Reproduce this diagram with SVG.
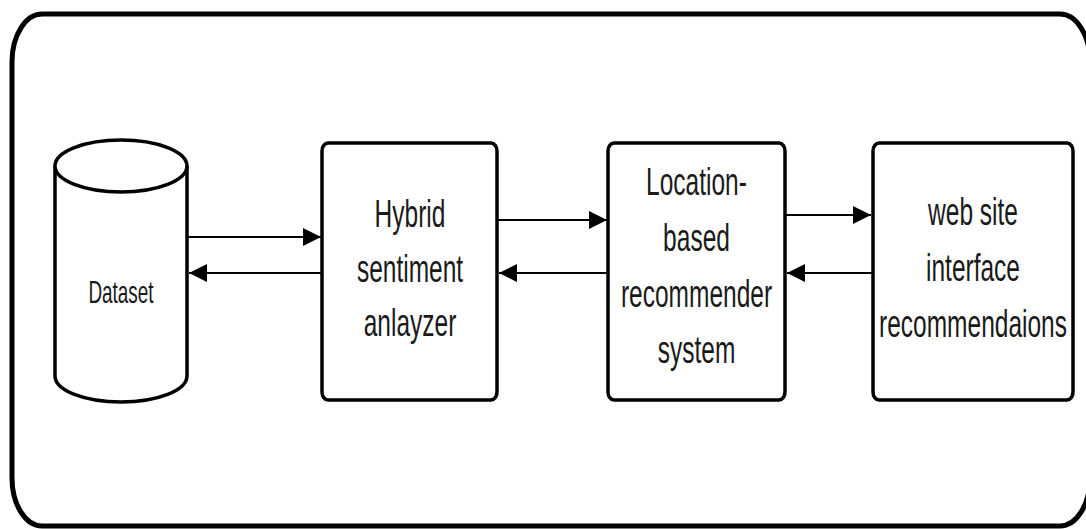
<svg xmlns="http://www.w3.org/2000/svg" width="1086" height="529" viewBox="0 0 1086 529">
  <style>
    .box { fill: #ffffff; stroke: #000000; stroke-width: 3.5; }
    .frame { fill: none; stroke: #000000; stroke-width: 5; }
    .conn { fill: none; stroke: #000000; stroke-width: 2; marker-end: url(#arrow); }
    .lbl { font-family: "Liberation Sans", Arial, sans-serif; font-size: 38px; fill: #1a1a1a; text-anchor: middle; }
    .lbl-small { font-family: "Liberation Sans", Arial, sans-serif; font-size: 31px; fill: #1a1a1a; text-anchor: middle; }
  </style>
  <defs>
    <marker id="arrow" markerUnits="userSpaceOnUse" markerWidth="18" markerHeight="18" refX="18" refY="9" orient="auto">
      <path d="M0,0 L18,9 L0,18 z" fill="#000000"/>
    </marker>
  </defs>
  <rect width="1086" height="529" fill="#ffffff"/>
  <rect id="frame" class="frame" x="12" y="14" width="1078" height="512" rx="30" ry="48"/>

  <g id="dataset">
    <path class="box" d="M55,166 L55,376 A66,26 0 0 0 187,376 L187,166"/>
    <ellipse class="box" cx="121" cy="166" rx="66" ry="26"/>
    <text class="lbl-small" transform="translate(121,0) scale(0.61,1)" x="0" y="303">Dataset</text>
  </g>

  <g id="hybrid">
    <rect class="box" x="322" y="143" width="175" height="257" rx="6" ry="8"/>
    <g transform="translate(410,0) scale(0.645,1)">
      <text class="lbl" x="0" y="227">Hybrid</text>
      <text class="lbl" x="0" y="282">sentiment</text>
      <text class="lbl" x="0" y="336">anlayzer</text>
    </g>
  </g>

  <g id="location">
    <rect class="box" x="608" y="143" width="177" height="257" rx="6" ry="8"/>
    <g transform="translate(696.5,0) scale(0.645,1)">
      <text class="lbl" x="0" y="195">Location-</text>
      <text class="lbl" x="0" y="251">based</text>
      <text class="lbl" x="0" y="307">recommender</text>
      <text class="lbl" x="0" y="363">system</text>
    </g>
  </g>

  <g id="website">
    <rect class="box" x="873" y="143" width="200" height="257" rx="6" ry="8"/>
    <g transform="translate(973,0) scale(0.645,1)">
      <text class="lbl" x="0" y="225">web site</text>
      <text class="lbl" x="0" y="281">interface</text>
      <text class="lbl" x="0" y="337">recommendaions</text>
    </g>
  </g>

  <g id="connectors">
    <line class="conn" x1="188" y1="237" x2="321" y2="237"/>
    <line class="conn" x1="322" y1="273" x2="189" y2="273"/>
    <line class="conn" x1="497" y1="220" x2="607" y2="220"/>
    <line class="conn" x1="608" y1="273" x2="499" y2="273"/>
    <line class="conn" x1="785" y1="215" x2="871" y2="215"/>
    <line class="conn" x1="873" y1="273" x2="787" y2="273"/>
  </g>
</svg>
